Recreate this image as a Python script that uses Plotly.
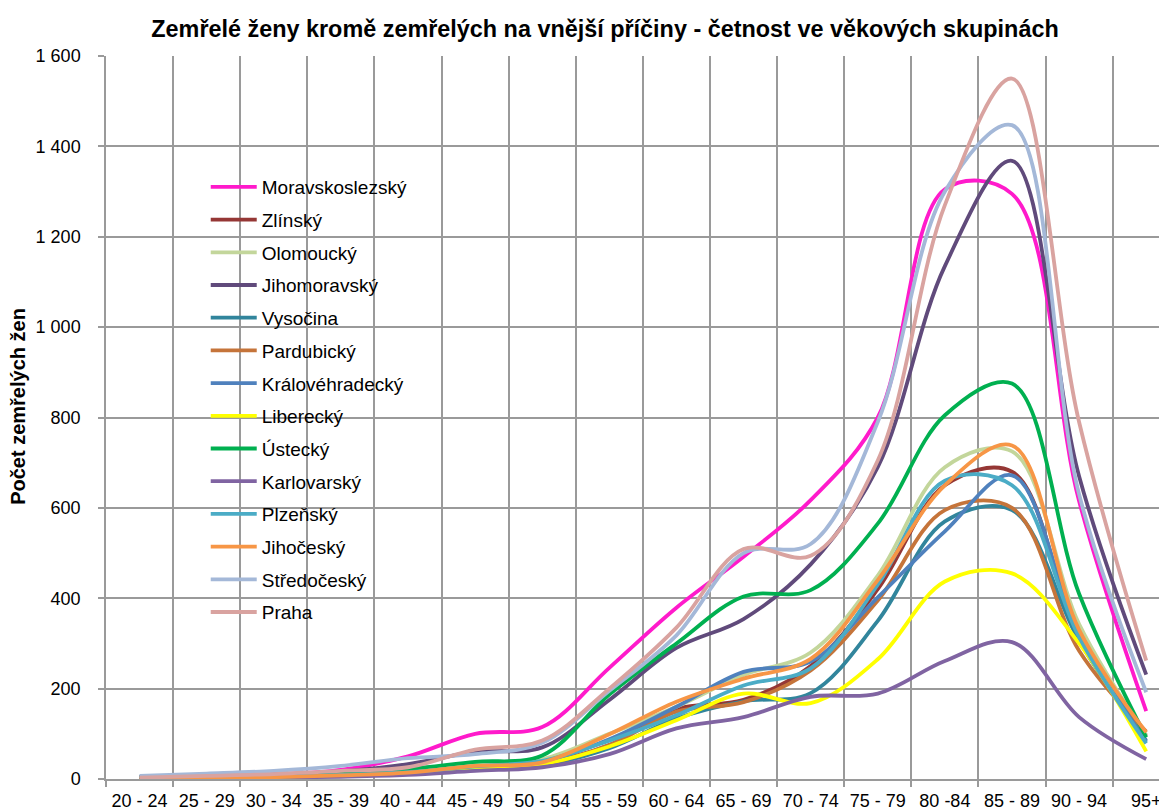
import plotly.graph_objects as go

# age groups (x categories)
age_groups = ['20 - 24', '25 - 29', '30 - 34', '35 - 39', '40 - 44', '45 - 49',
              '50 - 54', '55 - 59', '60 - 64', '65 - 69', '70 - 74', '75 - 79',
              '80 -84', '85 - 89', '90 - 94', '95+']

# y ticks
y_ticks = [0, 200, 400, 600, 800, 1000, 1200, 1400, 1600]
y_tick_labels = ['0', '200', '400', '600', '800', '1 000', '1 200', '1 400', '1 600']

# deaths per region
moravskoslezsky = [3, 6, 10, 20, 50, 100, 115, 246, 379, 492, 617, 800, 1305, 1295, 615, 150]
zlinsky = [2, 3, 5, 8, 14, 22, 35, 75, 155, 175, 250, 420, 650, 680, 314, 95]
olomoucky = [2, 4, 6, 10, 17, 35, 44, 100, 160, 230, 280, 450, 690, 725, 343, 97]
jihomoravsky = [4, 6, 10, 17, 33, 60, 70, 175, 290, 354, 475, 690, 1135, 1368, 670, 231]
vysocina = [2, 3, 4, 7, 12, 20, 30, 68, 134, 172, 190, 350, 570, 595, 306, 85]
pardubicky = [2, 3, 5, 8, 13, 25, 33, 75, 149, 170, 240, 395, 595, 600, 284, 105]
kralovehradecky = [4, 3, 4, 7, 12, 25, 38, 88, 160, 237, 260, 402, 548, 672, 321, 82]
liberecky = [2, 3, 5, 8, 12, 22, 33, 72, 130, 189, 168, 265, 437, 455, 300, 61]
ustecky = [3, 5, 8, 12, 22, 38, 52, 187, 300, 404, 418, 565, 805, 875, 410, 92]
karlovarsky = [1, 2, 3, 5, 9, 18, 26, 55, 112, 137, 182, 189, 261, 303, 137, 44]
plzensky = [2, 3, 5, 9, 15, 28, 40, 85, 141, 207, 245, 430, 660, 650, 314, 79]
jihocesky = [1, 2, 4, 8, 14, 29, 37, 99, 171, 222, 266, 440, 650, 738, 330, 103]
stredocesky = [7, 12, 18, 29, 46, 55, 80, 195, 318, 500, 520, 790, 1300, 1447, 630, 192]
praha = [3, 7, 11, 18, 26, 65, 85, 200, 335, 509, 494, 705, 1270, 1550, 790, 262]

series = [
    ('Moravskoslezský', moravskoslezsky, '#ff1acb'),
    ('Zlínský', zlinsky, '#953735'),
    ('Olomoucký', olomoucky, '#c3d69b'),
    ('Jihomoravský', jihomoravsky, '#604a7b'),
    ('Vysočina', vysocina, '#31859c'),
    ('Pardubický', pardubicky, '#c5743a'),
    ('Královéhradecký', kralovehradecky, '#4f81bd'),
    ('Liberecký', liberecky, '#ffff00'),
    ('Ústecký', ustecky, '#00b050'),
    ('Karlovarský', karlovarsky, '#8064a2'),
    ('Plzeňský', plzensky, '#4bacc6'),
    ('Jihočeský', jihocesky, '#f79646'),
    ('Středočeský', stredocesky, '#a4b8d8'),
    ('Praha', praha, '#d9a3a0'),
]

fig = go.Figure()

for name, values, color in series:
    fig.add_trace(go.Scatter(x=age_groups, y=values, name=name, mode='lines',
                             legendgroup=name,
                             line=dict(color=color, width=3.8, shape='spline', smoothing=1.0)))

font = 'Liberation Sans, Arial, sans-serif'
grid = '#9a9a9a'

# white box behind the legend (covers the grid like in the original)
fig.add_shape(type='rect', xref='paper', yref='paper', layer='between',
              x0=0.082, x1=0.297, y0=0.206, y1=0.84,
              fillcolor='white', line_width=0)

# page body has an 8px margin, so the figure is a bit smaller than the window
fig.update_layout(
    width=1159, height=804,
    paper_bgcolor='white', plot_bgcolor='white',
    margin=dict(l=98, r=0, t=48, b=33, autoexpand=False),
    font=dict(family=font, size=18, color='black'),
    title=dict(text='<b>Zemřelé ženy kromě zemřelých na vnější příčiny - četnost ve věkových skupinách</b>',
               x=597 / 1159, xanchor='center', xref='container',
               y=1 - 21 / 804, yanchor='middle', yref='container',
               font=dict(family=font, size=23.4, color='black')),
    showlegend=True,
    legend=dict(x=0.094, y=0.845, xanchor='left', yanchor='top',
                bgcolor='rgba(0,0,0,0)', borderwidth=0,
                font=dict(family=font, size=19, color='black'),
                itemwidth=46, tracegroupgap=5, traceorder='grouped'),
    annotations=[dict(text='<b>Počet zemřelých žen</b>', textangle=-90,
                      xref='paper', yref='paper', x=-0.083, y=0.516,
                      xanchor='center', yanchor='middle', showarrow=False,
                      font=dict(family=font, size=20, color='black'))],
)

fig.update_xaxes(type='category', range=[-0.5, 15.31], tickson='boundaries',
                 showgrid=True, gridcolor=grid, gridwidth=1.5,
                 showline=True, linecolor=grid, linewidth=1.5,
                 ticks='outside', ticklen=6, tickcolor=grid, tickwidth=1.5,
                 ticklabelstandoff=5,
                 tickfont=dict(family=font, size=18, color='black'),
                 automargin=False, fixedrange=True)

fig.update_yaxes(range=[0, 1600], tickvals=y_ticks, ticktext=y_tick_labels,
                 showgrid=True, gridcolor=grid, gridwidth=1.5,
                 zeroline=False, showline=True, linecolor=grid, linewidth=1.5,
                 ticks='outside', ticklen=6, tickcolor=grid, tickwidth=1.5,
                 ticklabelstandoff=14,
                 tickfont=dict(family=font, size=18, color='black'),
                 automargin=False, fixedrange=True)

fig.write_html("out.html")
